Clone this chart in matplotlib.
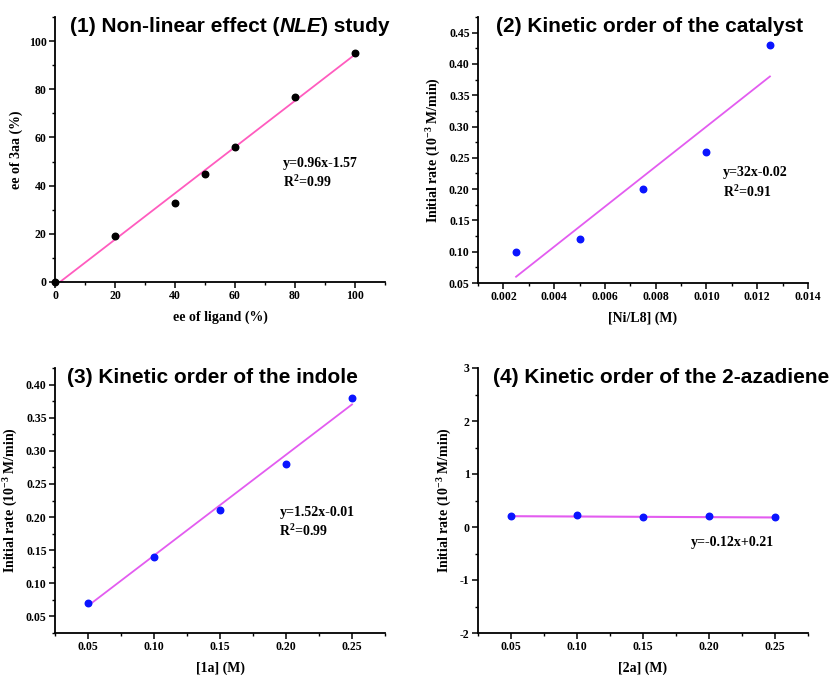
import matplotlib
matplotlib.use("Agg")
import matplotlib.pyplot as plt
from matplotlib.ticker import MultipleLocator
import numpy as np

# (1) NLE study
nle_x = [0, 20, 40, 50, 60, 80, 100]
nle_y = [0, 19, 33, 45, 56, 77, 95]
nle_fit = (0.96, -1.57)

# (2) catalyst order
cat_x = [0.0025, 0.005, 0.0075, 0.010, 0.0125]
cat_y = [0.10, 0.12, 0.20, 0.26, 0.43]
cat_fit = (32, -0.02)

# (3) indole order
ind_x = [0.05, 0.10, 0.15, 0.20, 0.25]
ind_y = [0.07, 0.14, 0.21, 0.28, 0.38]
ind_fit = (1.52, -0.01)

# (4) 2-azadiene order
aza_x = [0.05, 0.10, 0.15, 0.20, 0.25]
aza_y = [0.20, 0.22, 0.19, 0.20, 0.18]
aza_fit = (-0.12, 0.21)

SERIF = "Liberation Serif"
SANS = "Liberation Sans"
PINK = "#ff5cbf"
VIOLET = "#e35cf0"
RATE_LABEL = "Initial rate (10$^{-3}$ M/min)"

plt.rcParams["mathtext.fontset"] = "custom"
plt.rcParams["mathtext.rm"] = "Liberation Serif:bold"
plt.rcParams["mathtext.it"] = "Liberation Serif:bold"

fig = plt.figure(figsize=(8.3, 6.75), dpi=100)
W, H = 830, 675


def make_ax(left, top, right, bottom):
    return fig.add_axes([left / W, 1 - bottom / H, (right - left) / W, (bottom - top) / H])


def style(ax, xlim, ylim, xmaj, xmin, ymaj, ymin, xfmt, yfmt):
    ax.set_xlim(*xlim)
    ax.set_ylim(*ylim)
    for s in ["top", "right"]:
        ax.spines[s].set_visible(False)
    for s in ["left", "bottom"]:
        ax.spines[s].set_linewidth(1.3)
    ax.xaxis.set_major_locator(MultipleLocator(xmaj))
    ax.xaxis.set_minor_locator(MultipleLocator(xmin))
    ax.yaxis.set_major_locator(MultipleLocator(ymaj))
    ax.yaxis.set_minor_locator(MultipleLocator(ymin))
    ax.tick_params(which="major", direction="out", length=4, width=1.1, labelsize=8.5, pad=2)
    ax.tick_params(which="minor", direction="out", length=2.5, width=1.0)
    ax.xaxis.set_major_formatter(plt.FuncFormatter(lambda v, p: xfmt.format(v)))
    ax.yaxis.set_major_formatter(plt.FuncFormatter(lambda v, p: yfmt.format(v)))
    for lab in ax.get_xticklabels() + ax.get_yticklabels():
        lab.set_fontfamily(SERIF)
        lab.set_fontweight("bold")


def labels(ax, xl, yl, title, tx):
    ax.set_xlabel(xl, fontfamily=SERIF, fontweight="bold", fontsize=10, labelpad=6)
    ax.set_ylabel(yl, fontfamily=SERIF, fontweight="bold", fontsize=10, labelpad=4)
    ax.text(tx, 1.0, title, transform=ax.transAxes, fontfamily=SANS, fontweight="bold",
            fontsize=15, va="top", ha="left")


def note(ax, x, y, txt):
    ax.text(x, y, txt, fontfamily=SERIF, fontweight="bold", fontsize=10,
            va="center", ha="left", linespacing=1.35)


# panel 1
ax1 = make_ax(55, 17, 385, 282)
xf = np.array([-nle_fit[1] / nle_fit[0], 100])
ax1.plot(xf, nle_fit[0] * xf + nle_fit[1], color=PINK, lw=1.3, zorder=2)
ax1.scatter(nle_x, nle_y, s=22, color="black", zorder=3, clip_on=False)
style(ax1, (0, 110), (0, 110), 20, 10, 20, 10, "{:.0f}", "{:.0f}")
labels(ax1, "ee of ligand (%)", "ee of 3aa (%)", "(1) Non-linear effect (", 0.045)
t = ax1.texts[-1]
fig.canvas.draw()
r = fig.canvas.get_renderer()
bb = t.get_window_extent(r)
t2 = fig.text(bb.x1 / W, bb.y1 / H, "NLE", fontfamily=SANS, fontweight="bold", style="italic",
              fontsize=15, va="top", ha="left")
bb2 = t2.get_window_extent(r)
fig.text(bb2.x1 / W, bb.y1 / H, ") study", fontfamily=SANS, fontweight="bold",
         fontsize=15, va="top", ha="left")
note(ax1, 76, 45, "y=0.96x-1.57\nR$^2$=0.99")

# panel 2
ax2 = make_ax(478, 17, 808, 283)
xf = np.array([cat_x[0], cat_x[-1]])
ax2.plot(xf, cat_fit[0] * xf + cat_fit[1], color=VIOLET, lw=1.3, zorder=2)
ax2.scatter(cat_x, cat_y, s=22, color="#0a14ff", zorder=3)
style(ax2, (0.001, 0.014), (0.05, 0.475), 0.002, 0.001, 0.05, 0.025, "{:.3f}", "{:.2f}")
labels(ax2, "[Ni/L8] (M)", RATE_LABEL, "(2) Kinetic order of the catalyst", 0.055)
note(ax2, 0.01065, 0.21, "y=32x-0.02\nR$^2$=0.91")

# panel 3
ax3 = make_ax(55, 368, 385, 633)
xf = np.array([ind_x[0], ind_x[-1]])
ax3.plot(xf, ind_fit[0] * xf + ind_fit[1], color=VIOLET, lw=1.3, zorder=2)
ax3.scatter(ind_x, ind_y, s=22, color="#0a14ff", zorder=3)
style(ax3, (0.025, 0.275), (0.025, 0.425), 0.05, 0.025, 0.05, 0.025, "{:.2f}", "{:.2f}")
labels(ax3, "[1a] (M)", RATE_LABEL, "(3) Kinetic order of the indole", 0.035)
note(ax3, 0.195, 0.192, "y=1.52x-0.01\nR$^2$=0.99")

# panel 4
ax4 = make_ax(478, 368, 808, 633)
xf = np.array([aza_x[0], aza_x[-1]])
ax4.plot(xf, aza_fit[0] * xf + aza_fit[1], color=VIOLET, lw=1.5, zorder=2)
ax4.scatter(aza_x, aza_y, s=22, color="#0a14ff", zorder=3)
style(ax4, (0.025, 0.275), (-2, 3), 0.05, 0.025, 1, 0.5, "{:.2f}", "{:.0f}")
labels(ax4, "[2a] (M)", RATE_LABEL, "(4) Kinetic order of the 2-azadiene", 0.045)
note(ax4, 0.186, -0.30, "y=-0.12x+0.21")

fig.savefig("out.png", dpi=100)
